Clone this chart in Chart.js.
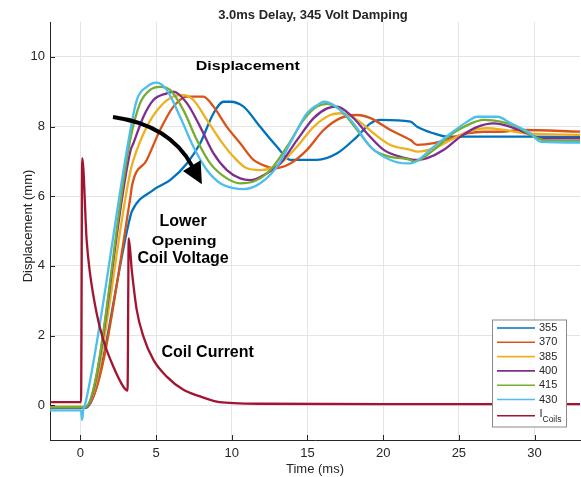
<!DOCTYPE html>
<html><head><meta charset="utf-8">
<script src="https://cdn.jsdelivr.net/npm/chart.js@4.4.0/dist/chart.umd.min.js"></script>
<style>html,body{margin:0;padding:0;background:#fff;}</style>
</head><body>
<canvas id="c" width="581" height="477"></canvas>
<script>
// ---- data ----
const xTicks = [0, 5, 10, 15, 20, 25, 30];
const yTicks = [0, 2, 4, 6, 8, 10];
const seriesNames = ['355', '370', '385', '400', '415', '430'];

const t355 = [-2, 0.35, 3.33, 3.4, 4.83, 5.93, 7.04, 7.92, 8.8, 9.46, 9.9, 10.78, 11.88, 12.99, 13.87, 15.63, 16.96, 18.28, 19.16, 19.82, 21.81, 22.25, 23.35, 24.23, 29.52, 33.1];
const d355 = [-0.08, -0.08, 5.46, 5.56, 6.18, 6.46, 6.94, 7.52, 8.38, 8.71, 8.71, 8.57, 7.99, 7.42, 7.04, 7.04, 7.23, 7.71, 8.09, 8.19, 8.14, 7.99, 7.8, 7.71, 7.71, 7.7];

const t370 = [-2, 0.35, 3.33, 3.4, 4.39, 5.27, 6.15, 7.04, 8.13, 8.8, 9.68, 10.56, 11.44, 12.33, 12.76, 13.87, 14.97, 16.07, 17.18, 18.28, 19.16, 20.48, 21.81, 22.25, 23.35, 24.45, 25.56, 26.65, 27.76, 29.08, 33.1];
const d370 = [-0.05, -0.05, 6.03, 6.27, 7.04, 7.9, 8.57, 8.86, 8.86, 8.57, 7.99, 7.52, 7.04, 6.85, 6.8, 6.94, 7.33, 7.9, 8.24, 8.33, 8.24, 7.9, 7.61, 7.47, 7.52, 7.66, 7.8, 7.85, 7.85, 7.9, 7.85];

const t385 = [-2, 0.35, 3.33, 3.51, 4.39, 5.27, 6.15, 6.81, 7.47, 8.36, 9.24, 10.12, 11.0, 11.88, 13.21, 14.31, 15.41, 16.51, 17.18, 18.28, 19.38, 20.48, 21.81, 22.25, 23.35, 24.45, 25.56, 26.88, 27.98, 29.52, 33.1];
const d385 = [-0.05, -0.05, 6.75, 7.04, 7.99, 8.57, 8.86, 8.9, 8.76, 8.19, 7.61, 7.13, 6.8, 6.75, 6.94, 7.42, 7.99, 8.33, 8.38, 8.19, 7.8, 7.47, 7.33, 7.28, 7.37, 7.61, 7.85, 7.95, 7.9, 7.8, 7.76];

const t400 = [-2, 0.33, 3.33, 3.51, 4.17, 4.83, 5.71, 6.15, 7.04, 7.92, 8.8, 9.68, 10.56, 11.22, 12.33, 13.21, 14.31, 15.41, 16.3, 16.96, 17.84, 18.94, 20.04, 21.14, 22.25, 22.91, 24.01, 25.11, 26.22, 27.31, 28.42, 29.52, 30.4, 33.1];
const d400 = [-0.07, -0.07, 7.33, 7.52, 8.28, 8.76, 8.95, 9.0, 8.67, 7.99, 7.23, 6.75, 6.51, 6.46, 6.66, 6.94, 7.61, 8.24, 8.52, 8.57, 8.33, 7.8, 7.33, 7.13, 7.04, 7.09, 7.33, 7.71, 7.99, 8.09, 7.99, 7.8, 7.66, 7.66];

const t415 = [-2, 0.31, 3.32, 3.95, 4.61, 5.27, 5.93, 6.81, 7.7, 8.58, 9.68, 10.56, 11.44, 12.55, 13.65, 14.75, 15.63, 16.3, 17.18, 18.28, 19.38, 20.48, 21.81, 22.02, 23.35, 24.45, 25.56, 26.65, 27.76, 28.86, 29.96, 30.62, 33.1];
const d415 = [-0.06, -0.06, 7.67, 8.67, 9.05, 9.14, 9.05, 8.47, 7.61, 6.94, 6.51, 6.37, 6.42, 6.75, 7.42, 8.19, 8.57, 8.65, 8.47, 7.9, 7.33, 7.13, 7.04, 6.99, 7.33, 7.76, 8.04, 8.19, 8.14, 7.99, 7.71, 7.61, 7.59];

const t430 = [-2, 0.05, 0.12, 0.2, 0.31, 3.29, 3.73, 4.39, 5.05, 5.71, 6.59, 7.47, 8.36, 9.24, 10.12, 10.78, 11.88, 12.99, 14.09, 14.97, 15.85, 16.07, 17.84, 19.16, 20.48, 21.59, 21.9, 23.35, 24.45, 25.56, 26.2, 27.56, 28.42, 29.74, 30.4, 33.1];
const d430 = [-0.15, -0.15, -0.42, -0.12, 0.0, 7.85, 8.76, 9.14, 9.26, 9.05, 8.28, 7.42, 6.75, 6.37, 6.23, 6.2, 6.37, 6.85, 7.71, 8.38, 8.67, 8.71, 8.19, 7.42, 7.04, 6.94, 6.95, 7.42, 7.8, 8.14, 8.28, 8.28, 8.09, 7.8, 7.56, 7.54];

const tCoil = [-2, 0.05, 0.13, 0.42, 0.64, 1.08, 1.52, 2.18, 2.84, 3.02, 3.12, 3.2, 3.4, 3.73, 4.17, 4.83, 5.71, 6.81, 7.92, 9.02, 10.12, 11.88, 20, 33.1];
const iCoil = [0.09, 0.09, 7.09, 4.74, 3.79, 2.64, 1.87, 1.11, 0.53, 0.44, 0.42, 4.79, 3.88, 2.73, 1.97, 1.3, 0.82, 0.44, 0.25, 0.1, 0.06, 0.04, 0.03, 0.03];

// ---- styling ----
const colors = ['#0072BD', '#D95319', '#EDB120', '#7E2F8E', '#77AC30', '#4DBEEE'];
const coilColor = '#A2142F';
const FONT = '"Liberation Sans", Arial, Helvetica, sans-serif';
const INK = '#262626';

const pts = (t, v) => t.map((x, i) => ({x: x, y: v[i]}));
const dispT = [t355, t370, t385, t400, t415, t430];
const dispV = [d355, d370, d385, d400, d415, d430];

const datasets = seriesNames.map((n, i) => ({
  label: n, data: pts(dispT[i], dispV[i]), borderColor: colors[i],
  borderWidth: 2.3, pointRadius: 0, fill: false, cubicInterpolationMode: 'monotone', order: 10 - i
}));
datasets.push({label: 'I_Coils', data: pts(tCoil, iCoil), borderColor: coilColor,
  borderWidth: 2.3, pointRadius: 0, fill: false, cubicInterpolationMode: 'monotone', order: 1});

// annotation anchors in data units (time ms, displacement mm)
const notes = [
  {text: 'Displacement', t: 11.06, v: 9.74, size: 16, sy: 0.82},
  {text: 'Lower', t: 6.79, v: 5.27, size: 16, sy: 1},
  {text: 'Opening', t: 6.86, v: 4.70, size: 16, sy: 0.8},
  {text: 'Coil Voltage', t: 6.79, v: 4.2, size: 16, sy: 1},
  {text: 'Coil Current', t: 8.41, v: 1.5, size: 16, sy: 1}
];
const arrow = {start: [2.16, 8.27], ctrl: [5.93, 8.04], end: [7.39, 6.86],
  head: [[6.78, 6.72], [7.95, 7.03], [8.03, 6.34]]};

const deco = {
  id: 'deco',
  afterDraw(chart) {
    const ctx = chart.ctx, xs = chart.scales.x, ys = chart.scales.y, ca = chart.chartArea;
    const X = v => xs.getPixelForValue(v), Y = v => ys.getPixelForValue(v);
    ctx.save();
    // inward tick marks
    ctx.strokeStyle = INK; ctx.lineWidth = 1;
    ctx.beginPath();
    xTicks.forEach(v => { const p = Math.round(X(v)) + 0.5; ctx.moveTo(p, ca.bottom); ctx.lineTo(p, ca.bottom - 5); });
    yTicks.forEach(v => { const p = Math.round(Y(v)) + 0.5; ctx.moveTo(ca.left, p); ctx.lineTo(ca.left + 5, p); });
    ctx.stroke();

    // title
    ctx.fillStyle = INK; ctx.font = 'bold 13px ' + FONT; ctx.textAlign = 'center'; ctx.textBaseline = 'middle';
    ctx.fillText('3.0ms Delay, 345 Volt Damping', 313, 15);

    // axis titles
    ctx.font = '13px ' + FONT;
    ctx.fillText('Time (ms)', (ca.left + ca.right) / 2, 469);
    ctx.save(); ctx.translate(28, 226); ctx.rotate(-Math.PI / 2); ctx.fillText('Displacement (mm)', 0, 0); ctx.restore();

    // annotations
    ctx.fillStyle = '#000';
    notes.forEach(n => {
      ctx.save(); ctx.translate(X(n.t), Y(n.v)); ctx.scale(1, n.sy);
      ctx.font = 'bold ' + n.size + 'px ' + FONT; ctx.textAlign = 'center'; ctx.textBaseline = 'middle';
      ctx.fillText(n.text, 0, 0); ctx.restore();
    });
    // arrow
    ctx.strokeStyle = '#000'; ctx.lineWidth = 4; ctx.lineCap = 'butt';
    ctx.beginPath();
    ctx.moveTo(X(arrow.start[0]), Y(arrow.start[1]));
    ctx.quadraticCurveTo(X(arrow.ctrl[0]), Y(arrow.ctrl[1]), X(arrow.end[0]), Y(arrow.end[1]));
    ctx.stroke();
    ctx.beginPath();
    arrow.head.forEach((p, i) => { const f = i ? 'lineTo' : 'moveTo'; ctx[f](X(p[0]), Y(p[1])); });
    ctx.closePath(); ctx.fill();

    // legend
    const lx = ca.right - 87.5, ly = ca.bottom - 120, lw = 74, lh = 107;
    ctx.fillStyle = '#fff'; ctx.fillRect(lx, ly, lw, lh);
    ctx.strokeStyle = '#8a8a8a'; ctx.lineWidth = 1; ctx.strokeRect(lx, ly, lw, lh);
    const rows = seriesNames.map((n, i) => ({label: n, color: colors[i]}));
    rows.push({label: 'I', sub: 'Coils', color: coilColor});
    rows.forEach((r, i) => {
      const yy = ly + 8 + i * 14.3 + (r.sub ? 2 : 0);
      ctx.strokeStyle = r.color; ctx.lineWidth = 1.6;
      ctx.beginPath(); ctx.moveTo(lx + 4.5, yy); ctx.lineTo(lx + 42.5, yy); ctx.stroke();
      ctx.fillStyle = INK; ctx.textAlign = 'left'; ctx.textBaseline = 'middle';
      ctx.font = '11px ' + FONT;
      if (r.sub) {
        ctx.fillText(r.label, lx + 47, yy - 2);
        ctx.font = '8.5px ' + FONT; ctx.fillText(r.sub, lx + 50, yy + 3.5);
      } else ctx.fillText(r.label, lx + 46.5, yy);
    });
    ctx.restore();
  }
};

new Chart(document.getElementById('c'), {
  type: 'line',
  data: {datasets: datasets},
  options: {
    responsive: false, devicePixelRatio: 1, animation: false,
    layout: {padding: {top: 22, right: 1, left: 0, bottom: 0}},
    plugins: {legend: {display: false}, tooltip: {enabled: false}, title: {display: false}},
    scales: {
      x: {type: 'linear', min: -2, max: 33,
        afterBuildTicks: s => { s.ticks = xTicks.map(v => ({value: v})); },
        afterFit: s => { s.height = 37; },
        grid: {color: '#e4e4e4', drawTicks: false},
        border: {color: INK, width: 1},
        ticks: {font: {family: FONT, size: 13}, color: INK, padding: 6, maxRotation: 0}},
      y: {type: 'linear', min: -1, max: 11,
        afterBuildTicks: s => { s.ticks = yTicks.map(v => ({value: v})); },
        afterFit: s => { s.width = 50; },
        grid: {color: '#e4e4e4', drawTicks: false},
        border: {color: INK, width: 1},
        ticks: {font: {family: FONT, size: 13}, color: INK, padding: 5}}
    }
  },
  plugins: [deco]
});
</script>
</body></html>
